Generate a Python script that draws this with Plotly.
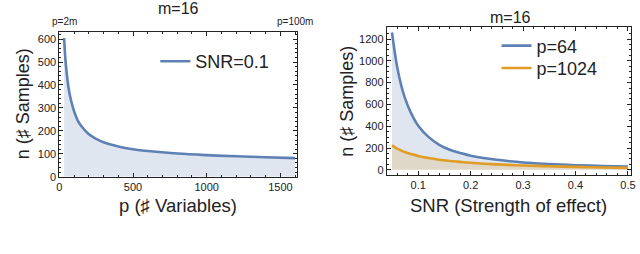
import plotly.graph_objects as go

# ---- data ----
p_vals = [32, 40, 50, 64, 80, 100, 125, 150, 200, 250, 300, 400, 500, 600, 800, 1000, 1200, 1400, 1600]
n_snr01 = [605, 520, 450, 380, 330, 285, 245, 220, 185, 165, 150, 132, 120, 112, 101, 94, 89, 85, 81]

snr_vals = [0.05, 0.06, 0.07, 0.08, 0.09, 0.1, 0.12, 0.14, 0.16, 0.18, 0.2, 0.25, 0.3, 0.35, 0.4, 0.45, 0.5]
n_p64 = [1260, 940, 730, 590, 485, 405, 300, 230, 185, 155, 130, 92, 68, 54, 43, 36, 30]
n_p1024 = [225, 195, 172, 155, 140, 128, 108, 93, 82, 73, 65, 50, 40, 33, 27, 22, 18]

left_xticks = [0, 500, 1000, 1500]
left_yticks = [0, 100, 200, 300, 400, 500, 600]
right_xticks = [0.1, 0.2, 0.3, 0.4, 0.5]
right_yticks = [0, 200, 400, 600, 800, 1000, 1200]

BLUE = "rgb(94,129,181)"
ORANGE = "rgb(224,156,36)"
BLUE_FILL = "rgba(94,129,181,0.2)"
ORANGE_FILL = "rgba(224,156,36,0.2)"
FONT = "Liberation Sans, Arial, sans-serif"
W, H = 640, 254

fig = go.Figure()

def add_series(x, y, name, color, fillcolor, xa, ya, leg):
    # filled area (no legend entry)
    fig.add_trace(go.Scatter(x=x, y=y, mode="lines", showlegend=False, hoverinfo="skip",
                             line=dict(width=0, shape="spline", color=color),
                             fill="tozeroy", fillcolor=fillcolor,
                             xaxis=xa, yaxis=ya))
    # the curve itself
    fig.add_trace(go.Scatter(x=x, y=y, mode="lines", name=name,
                             line=dict(color=color, width=2.6, shape="spline"),
                             xaxis=xa, yaxis=ya, legend=leg))

add_series(p_vals, n_snr01, "SNR=0.1", BLUE, BLUE_FILL, "x", "y", "legend")
add_series(snr_vals, n_p64, "p=64", BLUE, BLUE_FILL, "x2", "y2", "legend2")
add_series(snr_vals, n_p1024, "p=1024", ORANGE, ORANGE_FILL, "x2", "y2", "legend3")

def px_x(px):
    return px / W

def px_y(py):
    return (H - py) / H

axis_common = dict(showline=True, linecolor="#222", linewidth=1, mirror="allticks",
                   ticks="inside", ticklen=4, tickcolor="#222", tickwidth=1,
                   showgrid=False, zeroline=False,
                   tickfont=dict(family=FONT, size=11, color="#222"))

def legend_at(x_px, y_px):
    return dict(x=px_x(x_px), y=px_y(y_px), xanchor="left", yanchor="middle",
                bgcolor="rgba(0,0,0,0)", font=dict(family=FONT, size=18, color="#222"),
                tracegroupgap=0)

fig.update_layout(
    width=W, height=H, margin=dict(l=0, r=0, t=0, b=0),
    plot_bgcolor="white", paper_bgcolor="white",
    font=dict(family=FONT, color="#222"),
    xaxis=dict(domain=[px_x(57), px_x(297)], range=[0, 1611], tickvals=left_xticks,
               minor=dict(dtick=100, ticks="inside", ticklen=2, tickcolor="#222"),
               anchor="y", **axis_common),
    yaxis=dict(domain=[px_y(181), px_y(33)], range=[0, 630], tickvals=left_yticks,
               minor=dict(dtick=20, ticks="inside", ticklen=2, tickcolor="#222"),
               anchor="x", **axis_common),
    xaxis2=dict(domain=[px_x(388), px_x(635)], range=[0.04, 0.506], tickvals=right_xticks,
                minor=dict(dtick=0.02, ticks="inside", ticklen=2, tickcolor="#222"),
                anchor="y2", **axis_common),
    yaxis2=dict(domain=[px_y(179), px_y(28)], range=[-45, 1307], tickvals=right_yticks,
                minor=dict(dtick=50, ticks="inside", ticklen=2, tickcolor="#222"),
                anchor="x2", **axis_common),
    legend=legend_at(154, 63),
    legend2=legend_at(499, 47),
    legend3=legend_at(499, 70),
    showlegend=True,
)

ann = []
def add_text(text, x, y, size, xref="paper", yref="paper", angle=0):
    ann.append(dict(text=text, x=x, y=y, xref=xref, yref=yref, showarrow=False,
                    xanchor="center", yanchor="middle", textangle=angle,
                    font=dict(family=FONT, size=size, color="#222")))

add_text("m=16", px_x(177), px_y(9), 16)
add_text("m=16", px_x(513), px_y(18), 16)
add_text("p (♯ Variables)", px_x(177), px_y(210), 18.5)
add_text("SNR (Strength of effect)", px_x(511), px_y(210), 18.5)
add_text("n (♯ Samples)", px_x(21), px_y(106), 18, angle=-90)
add_text("n (♯ Samples)", px_x(347), px_y(104), 18, angle=-90)
add_text("p=2m", 32, px_y(22), 10, xref="x")
add_text("p=100m", 1600, px_y(22), 10, xref="x")
fig.update_layout(annotations=ann)

fig.write_html("out.html", config={"displayModeBar": False},
               post_script="document.body.style.margin='0px';document.body.style.overflow='hidden';")
